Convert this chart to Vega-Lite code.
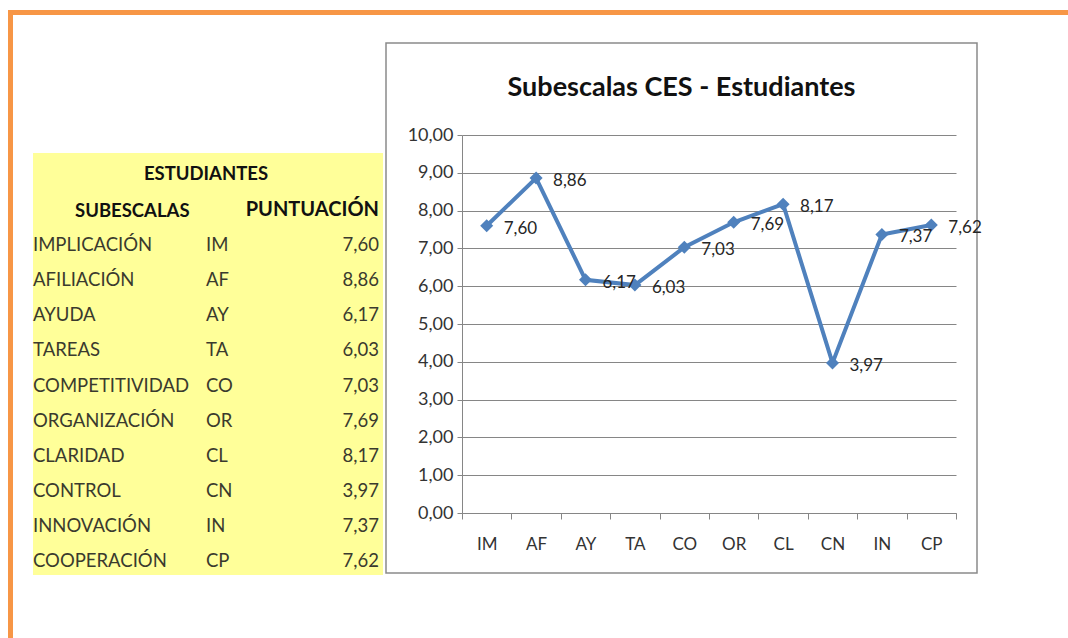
{
  "$schema": "https://vega.github.io/schema/vega-lite/v6.json",
  "background": "white",
  "padding": {"left": 8, "top": 10, "right": 0, "bottom": 0},
  "config": {
    "font": "Lato",
    "locale": {"number": {"decimal": ",", "thousands": ".", "grouping": [3], "currency": ["", " €"]}},
    "concat": {"spacing": 0}
  },
  "datasets": {
    "ces": [
      {"sub": "IMPLICACIÓN", "cod": "IM", "p": 7.60},
      {"sub": "AFILIACIÓN", "cod": "AF", "p": 8.86},
      {"sub": "AYUDA", "cod": "AY", "p": 6.17},
      {"sub": "TAREAS", "cod": "TA", "p": 6.03},
      {"sub": "COMPETITIVIDAD", "cod": "CO", "p": 7.03},
      {"sub": "ORGANIZACIÓN", "cod": "OR", "p": 7.69},
      {"sub": "CLARIDAD", "cod": "CL", "p": 8.17},
      {"sub": "CONTROL", "cod": "CN", "p": 3.97},
      {"sub": "INNOVACIÓN", "cod": "IN", "p": 7.37},
      {"sub": "COOPERACIÓN", "cod": "CP", "p": 7.62}
    ]
  },
  "vconcat": [
    {
      "data": {"values": []},
      "mark": "point",
      "width": 1062,
      "height": 5,
      "view": {"fill": "#F79646", "stroke": null}
    },
    {
      "spacing": 20,
      "hconcat": [
        {
          "data": {"values": []},
          "mark": "point",
          "width": 5,
          "height": 630,
          "view": {"fill": "#F79646", "stroke": null}
        },
        {
          "spacing": 2,
          "hconcat": [
            {
              "spacing": 137,
              "vconcat": [
                {
                  "data": {"values": []},
                  "mark": "point",
                  "width": 350,
                  "height": 1,
                  "view": {"stroke": null}
                },
                {
                  "width": 350,
                  "height": 422,
                  "view": {"fill": "#FFFF99", "stroke": null},
                  "data": {"name": "ces"},
                  "encoding": {
                    "y": {
                      "field": "sub", "type": "nominal", "axis": null,
                      "scale": {
                        "type": "band", "paddingInner": 0, "paddingOuter": 0,
                        "domain": ["ESTUDIANTES", "SUBESCALAS", "IMPLICACIÓN", "AFILIACIÓN", "AYUDA", "TAREAS", "COMPETITIVIDAD", "ORGANIZACIÓN", "CLARIDAD", "CONTROL", "INNOVACIÓN", "COOPERACIÓN"]
                      }
                    }
                  },
                  "layer": [
                    {
                      "mark": {"type": "text", "align": "left", "baseline": "middle", "dy": 4, "fontSize": 18.5, "color": "#3a3a2e"},
                      "encoding": {
                        "x": {"datum": "sub", "type": "nominal", "axis": null, "scale": {"type": "point", "domain": ["sub", "cod", "p"], "range": [0, 346], "padding": 0}},
                        "text": {"field": "sub"}
                      }
                    },
                    {
                      "mark": {"type": "text", "align": "left", "baseline": "middle", "dy": 4, "fontSize": 18.5, "color": "#3a3a2e"},
                      "encoding": {
                        "x": {"datum": "cod", "type": "nominal"},
                        "text": {"field": "cod"}
                      }
                    },
                    {
                      "mark": {"type": "text", "align": "right", "baseline": "middle", "dy": 4, "fontSize": 18.5, "color": "#3a3a2e"},
                      "encoding": {
                        "x": {"datum": "p", "type": "nominal"},
                        "text": {"field": "p", "type": "quantitative", "format": ".2f"}
                      }
                    },
                    {
                      "data": {"values": [{"t": "ESTUDIANTES"}]},
                      "mark": {"type": "text", "align": "center", "baseline": "middle", "dy": 3, "fontSize": 18.5, "fontWeight": "bold", "color": "#111111"},
                      "encoding": {
                        "x": {"datum": "cod", "type": "nominal"},
                        "y": {"field": "t", "type": "nominal"},
                        "text": {"field": "t"}
                      }
                    },
                    {
                      "data": {"values": [{"t": "SUBESCALAS"}]},
                      "mark": {"type": "text", "align": "left", "baseline": "middle", "dy": 5, "fontSize": 18.5, "fontWeight": "bold", "dx": 42, "color": "#111111"},
                      "encoding": {
                        "x": {"datum": "sub", "type": "nominal"},
                        "y": {"field": "t", "type": "nominal"},
                        "text": {"field": "t"}
                      }
                    },
                    {
                      "data": {"values": [{"t": "PUNTUACIÓN", "row": "SUBESCALAS"}]},
                      "mark": {"type": "text", "align": "right", "baseline": "middle", "dy": 4, "fontSize": 20, "fontWeight": "bold", "color": "#111111"},
                      "encoding": {
                        "x": {"datum": "p", "type": "nominal"},
                        "y": {"field": "row", "type": "nominal"},
                        "text": {"field": "t"}
                      }
                    }
                  ]
                }
              ]
            },
            {
              "spacing": 26,
              "vconcat": [
                {
                  "data": {"values": []},
                  "mark": "point",
                  "width": 591,
                  "height": 1,
                  "view": {"stroke": null}
                },
                {
                  "width": 591,
                  "height": 530,
                  "view": {"fill": "white", "stroke": "#8a8a8a", "strokeWidth": 1.5},
                  "title": {"text": "Subescalas CES - Estudiantes", "fontSize": 27, "fontWeight": "bold", "color": "#111111", "anchor": "middle", "offset": -59},
                  "data": {"name": "ces"},
                  "encoding": {
                    "x": {
                      "field": "cod", "type": "nominal", "sort": null,
                      "scale": {"type": "band", "range": [76, 570], "paddingInner": 0, "paddingOuter": 0},
                      "axis": {
                        "title": null, "orient": "bottom", "offset": -60, "labelAngle": 0,
                        "tickBand": "extent", "tickSize": 6, "tickColor": "#868686", "domainColor": "#868686",
                        "labelPadding": 17, "labelFontSize": 17, "labelColor": "#333333", "grid": false
                      }
                    },
                    "y": {
                      "field": "p", "type": "quantitative",
                      "scale": {"domain": [0, 10], "range": [470, 92], "nice": false, "zero": true},
                      "axis": {
                        "title": null, "offset": -76, "values": [0, 1, 2, 3, 4, 5, 6, 7, 8, 9, 10], "format": ".2f",
                        "grid": true, "gridColor": "#868686", "domainColor": "#868686", "tickColor": "#868686",
                        "tickSize": 5, "labelPadding": 4, "labelFontSize": 18, "labelColor": "#333333"
                      }
                    }
                  },
                  "layer": [
                    {"mark": {"type": "line", "color": "#4F81BD", "strokeWidth": 4}},
                    {"mark": {"type": "point", "shape": "diamond", "filled": true, "size": 170, "color": "#4F81BD", "opacity": 1}},
                    {
                      "mark": {"type": "text", "align": "left", "baseline": "middle", "dx": 17, "dy": 3, "fontSize": 17, "color": "#262626"},
                      "encoding": {"text": {"field": "p", "type": "quantitative", "format": ".2f"}}
                    }
                  ]
                }
              ]
            }
          ]
        }
      ]
    }
  ]
}
